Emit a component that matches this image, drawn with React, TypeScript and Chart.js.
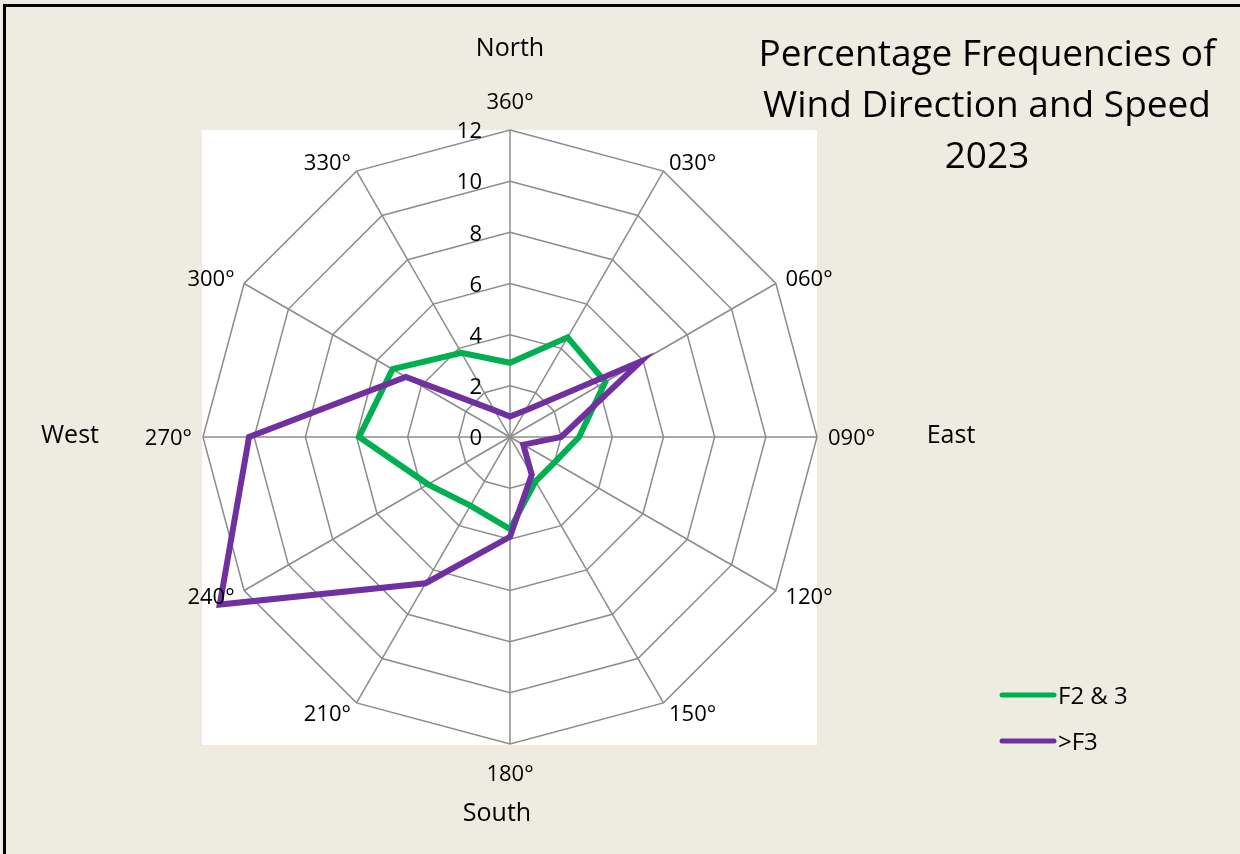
import React, { useEffect, useRef } from "react";
import { Chart, registerables } from "chart.js";

Chart.register(...registerables);

const DIRECTIONS = ["360°", "030°", "060°", "090°", "120°", "150°", "180°", "210°", "240°", "270°", "300°", "330°"];
const F2_3 = [2.9, 4.5, 4.3, 2.7, 2.0, 2.0, 3.6, 3.1, 3.7, 5.9, 5.3, 3.8];
const ABOVE_F3 = [0.8, 1.2, 5.9, 2.0, 0.6, 1.7, 3.9, 6.6, 13.1, 10.2, 4.7, 1.2];
const TICKS = [0, 2, 4, 6, 8, 10, 12];
const TITLE_LINES = ["Percentage Frequencies of", "Wind Direction and Speed", "2023"];
const SERIES_NAMES = ["F2 & 3", ">F3"];
const COMPASS = ["North", "East", "South", "West"];

const GREEN = "#00B050";
const PURPLE = "#7030A0";
const BG = "#EEEBE0";
const FONT = "'Open Sans', 'Noto Sans', sans-serif";
const DY = 2;

const decorPlugin = {
  id: "decor",
  beforeDraw(chart: any) {
    const ctx = chart.ctx;
    const s = chart.scales.r;
    ctx.save();
    ctx.fillStyle = BG;
    ctx.fillRect(0, 0, chart.width, chart.height);
    const r = s.drawingArea;
    ctx.fillStyle = "#FFFFFF";
    ctx.fillRect(s.xCenter - r - 1, s.yCenter - r, 2 * r + 1, 2 * r + 1);
    ctx.fillStyle = "#000000";
    ctx.fillRect(3, 4, chart.width, 3);
    ctx.fillRect(3, 4, 3, chart.height);
    ctx.restore();
  },
  afterDraw(chart: any) {
    const ctx = chart.ctx;
    const s = chart.scales.r;
    const cx = s.xCenter;
    const cy = s.yCenter;
    ctx.save();
    ctx.fillStyle = "#000000";

    // tick labels
    ctx.font = `22px ${FONT}`;
    ctx.textAlign = "right";
    ctx.textBaseline = "middle";
    TICKS.forEach((t) => {
      const d = s.getDistanceFromCenterForValue(t);
      ctx.fillText(String(t), cx - 28, cy - d + DY);
    });

    // point labels
    ctx.font = `22px ${FONT}`;
    DIRECTIONS.forEach((lab, i) => {
      const n = DIRECTIONS.length;
      const vertical = i === 0 || i === n / 2;
      const dist = s.drawingArea + (vertical ? 29 : 11);
      const p = s.getPointPosition(i, dist);
      ctx.textAlign = vertical ? "center" : i < n / 2 ? "left" : "right";
      ctx.textBaseline = "middle";
      ctx.fillText(lab, p.x, p.y + DY);
    });

    // compass words
    ctx.font = `25px ${FONT}`;
    ctx.textAlign = "center";
    ctx.textBaseline = "middle";
    ctx.fillText(COMPASS[0], cx, cy - 390 + DY);
    ctx.fillText(COMPASS[1], cx + 441, cy - 3 + DY);
    ctx.fillText(COMPASS[2], cx - 13, cy + 375 + DY);
    ctx.fillText(COMPASS[3], cx - 440, cy - 3 + DY);

    // title
    ctx.font = `37px ${FONT}`;
    TITLE_LINES.forEach((t, i) => {
      ctx.fillText(t, 987, 55 + i * 51);
    });

    // legend
    const colors = [GREEN, PURPLE];
    SERIES_NAMES.forEach((name, i) => {
      const y = 695 + i * 46;
      ctx.strokeStyle = colors[i];
      ctx.lineWidth = 5;
      ctx.lineCap = "round";
      ctx.beginPath();
      ctx.moveTo(1002, y);
      ctx.lineTo(1054, y);
      ctx.stroke();
      ctx.font = `24px ${FONT}`;
      ctx.textAlign = "left";
      ctx.textBaseline = "middle";
      ctx.fillText(name, 1058, y + DY);
    });
    ctx.restore();
  },
};

export default function App() {
  const ref = useRef<HTMLCanvasElement | null>(null);
  useEffect(() => {
    document.body.style.margin = "0";
    const canvas = ref.current;
    if (!canvas) return;
    const chart = new Chart(canvas, {
      type: "radar",
      data: {
        labels: DIRECTIONS,
        datasets: [
          {
            label: SERIES_NAMES[0],
            data: F2_3,
            borderColor: GREEN,
            backgroundColor: "transparent",
            borderWidth: 6,
            pointRadius: 0,
            fill: false,
            borderJoinStyle: "miter",
            order: 1,
            clip: false,
          } as any,
          {
            label: SERIES_NAMES[1],
            data: ABOVE_F3,
            borderColor: PURPLE,
            backgroundColor: "transparent",
            borderWidth: 6,
            pointRadius: 0,
            fill: false,
            borderJoinStyle: "miter",
            order: 0,
            clip: false,
          } as any,
        ],
      },
      options: {
        animation: false,
        responsive: false,
        devicePixelRatio: 1,
        layout: { padding: { left: 203, top: 130, right: 423, bottom: 110 } },
        plugins: {
          legend: { display: false },
          title: { display: false },
          tooltip: { enabled: false },
        },
        scales: {
          r: {
            min: 0,
            max: 12,
            ticks: { stepSize: 2, display: false },
            pointLabels: { display: false },
            grid: { color: "#8C8C8C", lineWidth: 1.5 },
            angleLines: { color: "#8C8C8C", lineWidth: 1.5 },
          },
        },
      } as any,
      plugins: [decorPlugin],
    });
    return () => chart.destroy();
  }, []);
  return (
    <div style={{ position: "absolute", left: 0, top: 0, width: 1240, height: 854 }}>
      <canvas ref={ref} width={1240} height={854} />
    </div>
  );
}
